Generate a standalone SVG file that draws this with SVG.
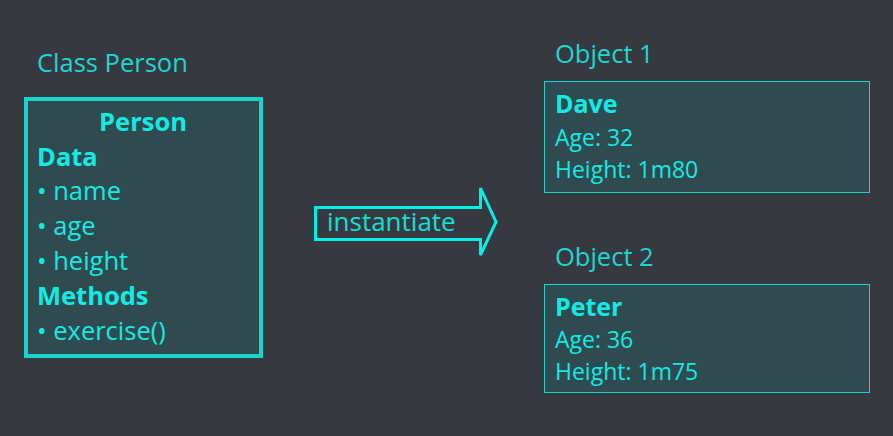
<svg xmlns="http://www.w3.org/2000/svg" width="893" height="436" viewBox="0 0 893 436">
<style>
text{font-family:"Open Sans","Noto Sans",sans-serif;fill:#10ece4;font-size:25.5px}
.lbl{fill:#1ad8d2;font-size:25.5px}
.b{font-weight:bold}
.o{font-size:23px}
.ob{font-size:25px;font-weight:bold}
.box{fill:#304b50;stroke:#1cd4cc}
</style>
<rect width="893" height="436" fill="#363940"/>
<text class="lbl" x="37" y="72">Class Person</text>
<g id="class-person">
<rect class="box" x="26" y="99" width="235" height="257" stroke-width="4"/>
<text class="b" x="143" y="131" text-anchor="middle">Person</text>
<text class="b" x="37" y="166">Data</text>
<text x="37" y="200">• name</text>
<text x="37" y="235">• age</text>
<text x="37" y="270">• height</text>
<text class="b" x="37" y="305">Methods</text>
<text x="37" y="340">• exercise()</text>
</g>
<g id="connectors">
<path d="M315.5,207.5 H480.5 V188 L496,222 L480.5,255 V239.5 H315.5 Z" fill="none" stroke="#00f0ea" stroke-width="3"/>
<text x="327" y="231" style="fill:#10e0d8;font-size:26px">instantiate</text>
</g>
<text class="lbl" x="555" y="63">Object 1</text>
<g id="object-1">
<rect class="box" x="544.5" y="81.5" width="325" height="111" stroke-width="1"/>
<text class="ob" x="555" y="113">Dave</text>
<text class="o" x="555" y="146">Age: 32</text>
<text class="o" x="555" y="178">Height: 1m80</text>
</g>
<text class="lbl" x="555" y="266">Object 2</text>
<g id="object-2">
<rect class="box" x="544.5" y="284.5" width="325" height="108" stroke-width="1"/>
<text class="ob" x="555" y="316">Peter</text>
<text class="o" x="555" y="348">Age: 36</text>
<text class="o" x="555" y="380">Height: 1m75</text>
</g>
</svg>
